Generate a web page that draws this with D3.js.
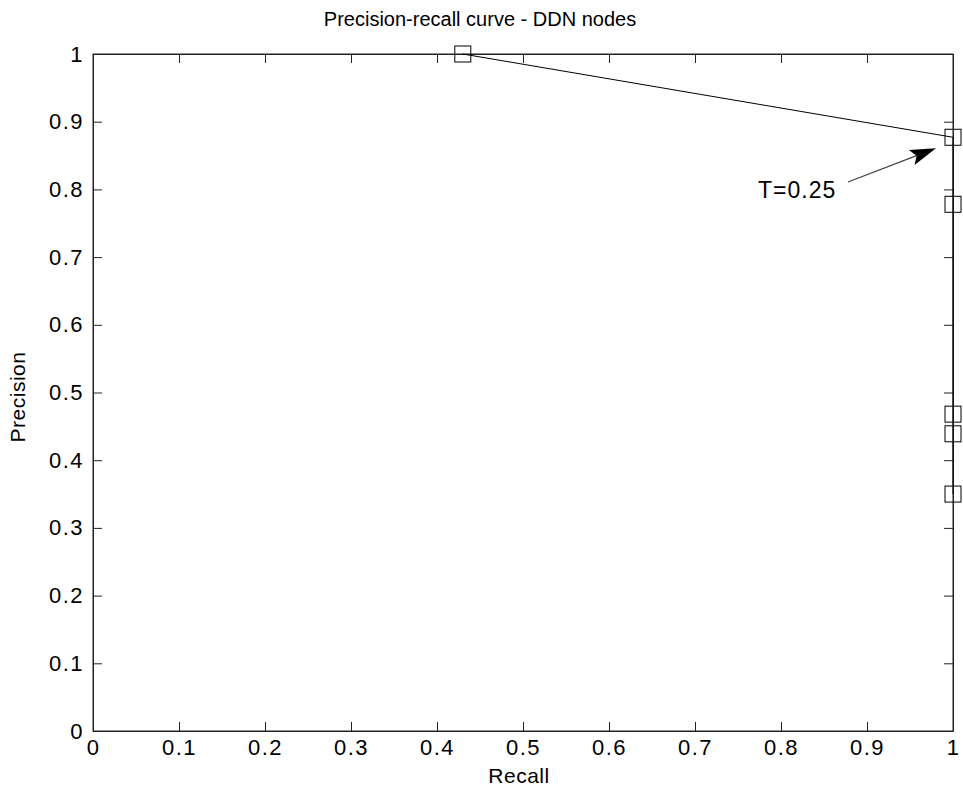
<!DOCTYPE html>
<html><head><meta charset="utf-8">
<script src="https://cdn.jsdelivr.net/npm/d3@7"></script>
<style>body{margin:0;background:#fff;} text{font-family:"Liberation Sans",Arial,sans-serif;fill:#000;}</style>
</head><body>
<svg id="c" width="963" height="793"></svg>
<script>
const recall = [0.43, 1.0, 1.0, 1.0, 1.0, 1.0];
const precision = [1.0, 0.877, 0.778, 0.468, 0.439, 0.350];
const xTicks = [0,0.1,0.2,0.3,0.4,0.5,0.6,0.7,0.8,0.9,1];
const yTicks = [0,0.1,0.2,0.3,0.4,0.5,0.6,0.7,0.8,0.9,1];
const titleText = "Precision-recall curve - DDN nodes";
const xLabel = "Recall", yLabel = "Precision";
const annText = "T=0.25";

const svg = d3.select("#c");
const L=93, R=953, T=54, B=731;
const x = d3.scaleLinear().domain([0,1]).range([L,R]);
const y = d3.scaleLinear().domain([0,1]).range([B,T]);
const fmt = d => String(d);
const tickLen = 9;

const g = svg.append("g");
g.append("rect").attr("x",L).attr("y",T).attr("width",R-L).attr("height",B-T)
  .attr("fill","none").attr("stroke","#222").attr("stroke-width",1);

const xb = g.append("g").attr("transform",`translate(0,${B})`)
  .call(d3.axisBottom(x).tickValues(xTicks).tickFormat(fmt).tickSizeInner(-tickLen).tickSizeOuter(0).tickPadding(6));
const xt = g.append("g").attr("transform",`translate(0,${T})`)
  .call(d3.axisTop(x).tickValues(xTicks).tickFormat("").tickSizeInner(-tickLen).tickSizeOuter(0));
const yl = g.append("g").attr("transform",`translate(${L},0)`)
  .call(d3.axisLeft(y).tickValues(yTicks).tickFormat(fmt).tickSizeInner(-tickLen).tickSizeOuter(0).tickPadding(8));
const yr = g.append("g").attr("transform",`translate(${R},0)`)
  .call(d3.axisRight(y).tickValues(yTicks).tickFormat("").tickSizeInner(-tickLen).tickSizeOuter(0));
[xb,xt,yl,yr].forEach(a=>{
  a.attr("font-size",null).attr("font-family",null);
  a.select(".domain").attr("stroke","#222");
  a.selectAll(".tick line").attr("stroke","#222");
  a.selectAll("text").style("font-size","22px").style("letter-spacing","1.5px")
   .style("font-family","Liberation Sans, Arial, sans-serif").attr("fill","#000");
});
xb.selectAll("text").attr("dy","0.71em").attr("y",tickLen>0?8:8);
yl.selectAll("text").attr("x",-9);

const pts = recall.map((r,i)=>[r,precision[i]]);
g.append("path").datum(pts)
  .attr("d", d3.line().x(d=>x(d[0])).y(d=>y(d[1])))
  .attr("fill","none").attr("stroke","#000").attr("stroke-width",1);

const s=16;
g.selectAll("rect.m").data(pts).join("rect").attr("class","m")
  .attr("x",d=>x(d[0])-s/2).attr("y",d=>y(d[1])-s/2)
  .attr("width",s).attr("height",s).attr("fill","none").attr("stroke","#000").attr("stroke-width",1);

// annotation arrow
const tip = [x(recall[1])-17, y(precision[1])+11];
const tail = [848,182];
const dx = tip[0]-tail[0], dy = tip[1]-tail[1], len = Math.hypot(dx,dy);
const ux = dx/len, uy = dy/len, px = -uy, py = ux;
const hl = 26, hw = 8;
const base = [tip[0]-ux*hl, tip[1]-uy*hl];
const notch = [tip[0]-ux*hl*0.8, tip[1]-uy*hl*0.8];
g.append("line").attr("x1",tail[0]).attr("y1",tail[1]).attr("x2",notch[0]).attr("y2",notch[1])
  .attr("stroke","#444").attr("stroke-width",1.3);
g.append("path").attr("d",`M${tip[0]},${tip[1]} L${base[0]+px*hw},${base[1]+py*hw} L${notch[0]},${notch[1]} L${base[0]-px*hw},${base[1]-py*hw} Z`)
  .attr("fill","#000");
g.append("text").attr("x",758).attr("y",198).style("font-size","23px").style("letter-spacing","1px").text(annText);

svg.append("text").attr("x",480).attr("y",26).attr("text-anchor","middle").style("font-size","20px").text(titleText);
svg.append("text").attr("x",519).attr("y",783).attr("text-anchor","middle").style("font-size","21px").style("letter-spacing","0.5px").text(xLabel);
svg.append("text").attr("transform","translate(25,397) rotate(-90)").attr("text-anchor","middle").style("font-size","21px").style("letter-spacing","0.5px").text(yLabel);
</script>
</body></html>
